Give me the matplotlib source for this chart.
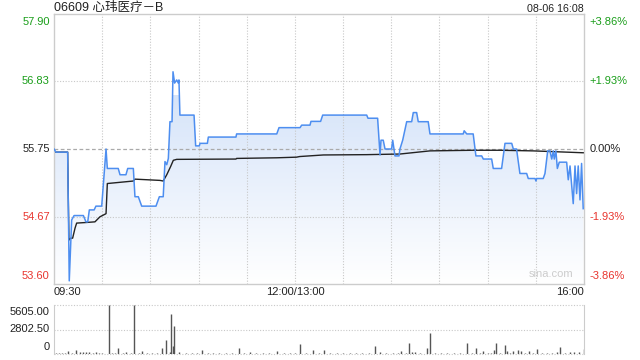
import matplotlib
matplotlib.use("Agg")
import matplotlib.pyplot as plt
import numpy as np
from matplotlib.colors import LinearSegmentedColormap

# ---------------- data ----------------
title = "06609 心玮医疗－B"
stamp = "08-06 16:08"
prev_close = 55.75
y_ticks = [53.60, 54.67, 55.75, 56.83, 57.90]
y_tick_labels = ["53.60", "54.67", "55.75", "56.83", "57.90"]
pct_labels = ["-3.86%", "-1.93%", "0.00%", "+1.93%", "+3.86%"]
x_tick_pos = [0, 150, 330]
x_tick_labels = ["09:30", "12:00/13:00", "16:00"]
vol_ticks = [0, 2802.50, 5605.00]
vol_tick_labels = ["0", "2802.50", "5605.00"]

price_min = [0, 1.2, 8.5, 9.5, 11, 12.5, 18.3, 19.9, 21, 22, 25, 26.1, 29.7, 32.4, 33.2,
             40, 41.1, 44.8, 45.9, 49.4, 50.4, 52.5, 54.6, 63.5, 65.6, 68, 69.1, 70.2,
             71.2, 72.2, 73.5, 74.1, 75.1, 76.4, 77.4, 77.8, 78.4, 87.2, 88.2, 90.5,
             90.9, 95.5, 96.1, 113.3, 113.7, 138.7, 140.1, 153.2, 154.2, 159.4, 160,
             166, 167.3, 194.7, 195.5, 201.5, 203, 203.6, 205, 206.1, 210.2, 210.9,
             212.3, 214.8, 215.4, 217.1, 219.6, 222.7, 223.7, 225.8, 226.8, 233, 234.1,
             254.8, 255.4, 257, 261, 262.7, 266.3, 267.3, 272.5, 273.5, 278.7, 280.8,
             285, 286, 288, 290.1, 294.3, 295.3, 299.5, 300.1, 300.5, 304.6, 305.7,
             307.4, 308.8, 309.9, 310.9, 311.5, 312.5, 313.4, 314.6, 319.2, 320.2,
             321.3, 323.3, 324.4, 325.4, 326.4, 327.5, 328.5, 329.5]
price_val = [55.75, 55.70, 55.70, 53.65, 54.62, 54.69, 54.69, 54.59, 54.59, 54.78, 54.78,
             54.84, 54.84, 55.75, 55.44, 55.44, 55.34, 55.34, 55.44, 55.44, 54.99, 54.99,
             54.84, 54.84, 54.99, 54.99, 55.55, 55.50, 55.60, 56.185, 56.185, 56.98, 56.80,
             56.85, 56.80, 56.85, 56.29, 56.29, 55.80, 55.80, 55.84, 55.84, 55.94, 55.94,
             55.99, 55.99, 56.09, 56.09, 56.13, 56.13, 56.19, 56.19, 56.29, 56.29, 56.24,
             56.24, 55.655, 55.89, 55.89, 55.75, 55.75, 55.89, 55.64, 55.64, 55.75, 55.89,
             56.185, 56.185, 56.33, 56.33, 56.185, 56.185, 55.99, 55.99, 56.04, 55.99,
             55.99, 55.64, 55.64, 55.59, 55.59, 55.44, 55.44, 55.84, 55.84, 55.75, 55.75,
             55.36, 55.36, 55.28, 55.28, 55.24, 55.28, 55.28, 55.36, 55.72, 55.72, 55.59,
             55.72, 55.59, 55.72, 55.44, 55.54, 55.54, 55.26, 55.48, 54.88, 55.48, 55.04,
             55.48, 54.94, 55.52, 54.80]

avg_min = [1.2, 8.5, 9.3, 10.4, 11.6, 13.1, 14.1, 20.3, 25.5, 28.6, 32.4, 33.2, 49.4,
           50.4, 66, 68, 70.2, 72.6, 74.3, 76.4, 113.3, 113.7, 138.7, 151, 153, 167.7,
           194.7, 215.4, 234.1, 261, 277.7, 298.4, 319.2, 329.5]
avg_val = [55.70, 55.70, 54.30, 54.33, 54.33, 54.49, 54.57, 54.58, 54.59, 54.67, 54.72,
           55.20, 55.24, 55.27, 55.25, 55.24, 55.34, 55.47, 55.57, 55.585, 55.59, 55.60,
           55.61, 55.62, 55.63, 55.655, 55.66, 55.67, 55.72, 55.73, 55.73, 55.72, 55.70,
           55.69]

vol_min = [1, 3, 5, 7, 9, 11, 14, 16, 18, 20, 22, 24, 26, 28, 30, 34, 36, 38, 40, 43, 45,
           48, 50, 53, 55, 58, 61, 64, 67, 70, 72, 73, 74, 75, 78, 82, 86, 89, 92, 96, 99,
           103, 107, 111, 115, 118, 122, 126, 130, 134, 139, 143, 147, 150, 153, 157, 161,
           165, 168, 172, 176, 180, 184, 188, 192, 196, 200, 203, 207, 211, 214, 216, 219,
           221, 223, 225, 228, 232, 234, 237, 241, 245, 249, 253, 257, 260, 263, 265, 267,
           270, 272, 274, 275, 278, 281, 282, 284, 286, 289, 291, 293, 296, 298, 301, 304,
           307, 310, 313, 315, 318, 321, 324, 327, 330]
vol_val = [120, 90, 150, 110, 300, 120, 457, 180, 200, 267, 240, 130, 250, 160, 110, 5605,
           140, 120, 648, 90, 180, 120, 5605, 100, 350, 130, 110, 140, 648, 1601, 270, 4575,
           915, 3203, 180, 120, 90, 130, 457, 110, 90, 120, 100, 140, 686, 110, 270, 100,
           120, 90, 380, 110, 100, 130, 1144, 120, 457, 100, 457, 120, 110, 90, 140, 100,
           130, 110, 915, 180, 120, 90, 140, 350, 110, 1296, 270, 200, 120, 686, 2440, 110,
           90, 120, 100, 110, 1296, 130, 686, 160, 380, 120, 150, 457, 1296, 110, 1030,
           380, 120, 350, 457, 380, 160, 350, 120, 530, 110, 140, 120, 180, 800, 150, 270,
           180, 270, 570]

# ---------------- style ----------------
GREEN = "#1a9e1a"
RED = "#e8352f"
BLACK = "#222222"
GRID = "#c8c8c8"
SPINE = "#cccccc"
LINE = "#4d8ef0"
FONT = ["Liberation Sans", "Noto Sans CJK SC", "DejaVu Sans"]
plt.rcParams["font.family"] = FONT
FS = 8

fig = plt.figure(figsize=(6.4, 3.6), dpi=100)
W, H = 640, 360

def frac(x0, y0, x1, y1):
    return [x0 / W, 1 - y1 / H, (x1 - x0) / W, (y1 - y0) / H]

ax = fig.add_axes(frac(54, 14, 584, 284))
vax = fig.add_axes(frac(54, 305, 584, 354))

ymin, ymax = y_ticks[0], y_ticks[-1]
ax.set_xlim(0, 330)
ax.set_ylim(ymin, ymax)

# gradient fill under the price line
poly = ax.fill_between(price_min, price_val, ymin, facecolor="none", edgecolor="none")
cmap = LinearSegmentedColormap.from_list("g", ["#ffffff", "#d6e4f9"])
grad = np.linspace(0, 1, 256).reshape(-1, 1)
im = ax.imshow(grad, extent=[0, 330, ymin, 56.6], origin="lower", cmap=cmap,
               aspect="auto", zorder=1)
im.set_clip_path(poly.get_paths()[0], transform=ax.transData)
ax.set_ylim(ymin, ymax)

# grid
for v in [y_ticks[1], y_ticks[3]]:
    ax.axhline(v, color=GRID, lw=0.8, ls=(0, (1, 1.5)), zorder=2)
ax.axhline(prev_close, color="#aaaaaa", lw=0.9, ls=(0, (3, 2)), zorder=2)
for m in range(30, 330, 30):
    ax.axvline(m, color=GRID, lw=0.8, ls=(0, (1, 1.5)), zorder=2)

ax.plot(avg_min, avg_val, color=BLACK, lw=1.0, zorder=4)
ax.plot(price_min, price_val, color=LINE, lw=1.1, zorder=5)

for s in ax.spines.values():
    s.set_color(SPINE)
    s.set_linewidth(1)
ax.set_xticks([])
ax.set_yticks([])

# y labels
colors = [RED, RED, BLACK, GREEN, GREEN]
offs = [6, 0, 0, 0, -6]
for v, lab, p, c, o in zip(y_ticks, y_tick_labels, pct_labels, colors, offs):
    ax.annotate(lab, (0, v), xycoords=("axes fraction", "data"), xytext=(-3, o),
                textcoords="offset points", ha="right", va="center", color=c, fontsize=FS)
    ax.annotate(p, (1, v), xycoords=("axes fraction", "data"), xytext=(4, o),
                textcoords="offset points", ha="left", va="center", color=c, fontsize=FS)

# x labels
has = ["left", "center", "right"]
for m, lab, h in zip(x_tick_pos, x_tick_labels, has):
    ax.annotate(lab, (m, 0), xycoords=("data", "axes fraction"), xytext=(0, -6),
                textcoords="offset points", ha=h, va="center", color=BLACK, fontsize=FS)

ax.text(0, 1.0, title, transform=ax.transAxes, ha="left", va="bottom", fontsize=9,
        color=BLACK, family=FONT)
ax.text(1, 1.0, stamp, transform=ax.transAxes, ha="right", va="bottom", fontsize=FS - 0.3,
        color=BLACK)
ax.text(0.98, 0.02, "sina.com", transform=ax.transAxes, ha="right", va="bottom",
        fontsize=FS, color="#cccccc", zorder=6)

# volume panel
vax.set_xlim(0, 330)
vax.set_ylim(0, vol_ticks[-1])
for v in vol_ticks:
    vax.axhline(v, color=GRID, lw=0.8, ls=(0, (1, 1.5)), zorder=1, clip_on=False)
vax.vlines(vol_min, 0, vol_val, color="#555555", lw=1.0, zorder=3)
vax.set_xticks([])
vax.set_yticks([])
for k in ["top", "bottom"]:
    vax.spines[k].set_visible(False)
for k in ["left", "right"]:
    vax.spines[k].set_color(SPINE)
voffs = [5, 0, -5]
for v, lab, o in zip(vol_ticks, vol_tick_labels, voffs):
    vax.annotate(lab, (0, v), xycoords=("axes fraction", "data"), xytext=(-3, o),
                 textcoords="offset points", ha="right", va="center", color=BLACK,
                 fontsize=FS)

fig.savefig("out.png", dpi=100)
